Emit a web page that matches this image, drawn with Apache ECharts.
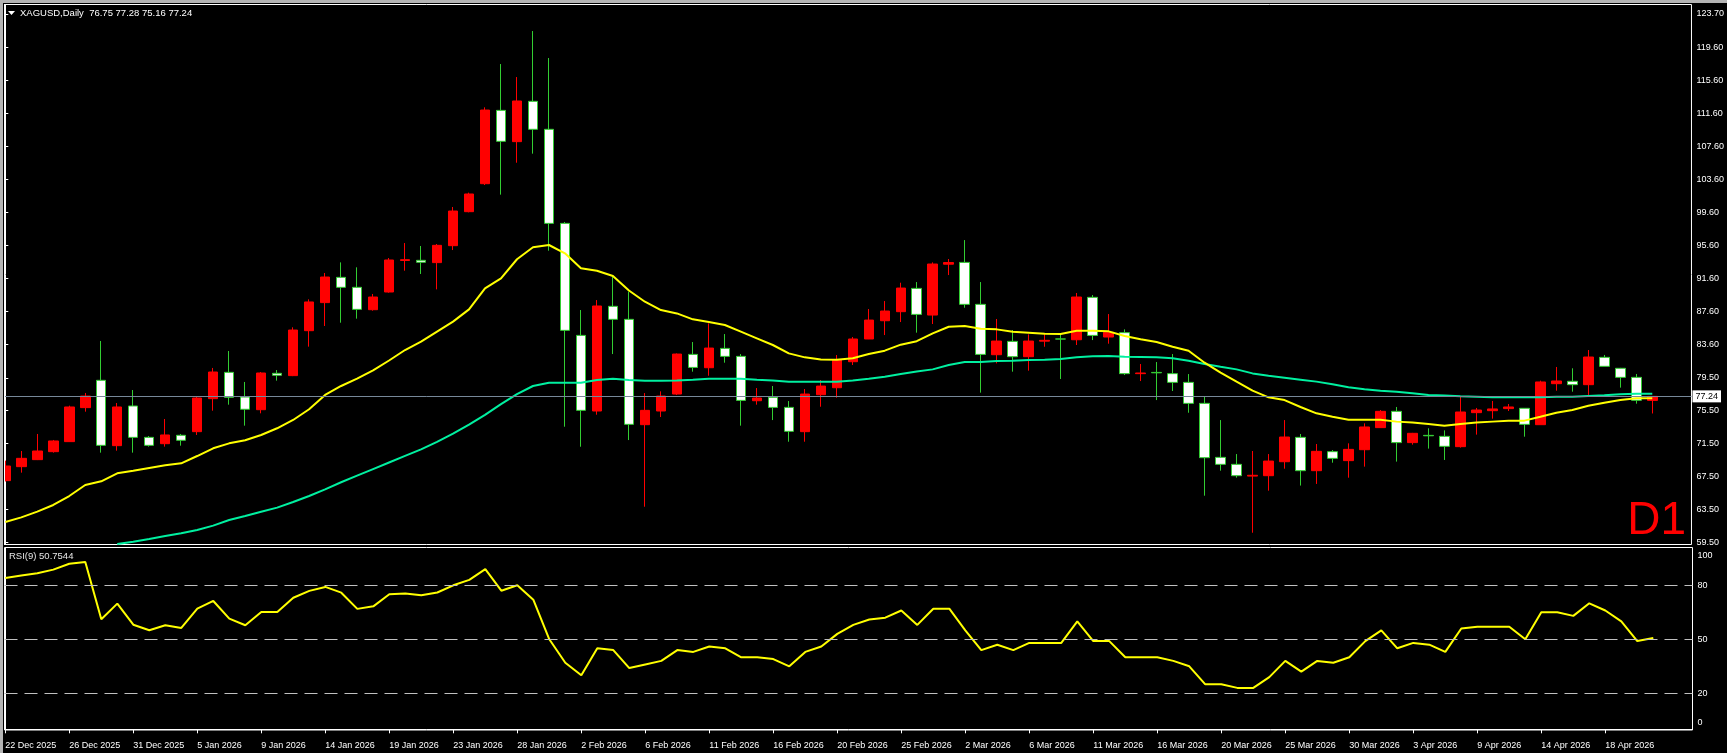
<!DOCTYPE html>
<html>
<head>
<meta charset="utf-8">
<script src="https://cdn.jsdelivr.net/npm/echarts@6/dist/echarts.min.js"></script>
<style>
html,body{margin:0;padding:0;background:#000;}
#chart{width:1727px;height:753px;}
</style>
</head>
<body>
<div id="chart"></div>
<script>
// ---- data ----
const categories = ['22 Dec 2025','23 Dec 2025','24 Dec 2025','25 Dec 2025','26 Dec 2025','28 Dec 2025','29 Dec 2025','30 Dec 2025','31 Dec 2025','1 Jan 2026','2 Jan 2026','4 Jan 2026','5 Jan 2026','6 Jan 2026','7 Jan 2026','8 Jan 2026','9 Jan 2026','11 Jan 2026','12 Jan 2026','13 Jan 2026','14 Jan 2026','15 Jan 2026','16 Jan 2026','18 Jan 2026','19 Jan 2026','20 Jan 2026','21 Jan 2026','22 Jan 2026','23 Jan 2026','25 Jan 2026','26 Jan 2026','27 Jan 2026','28 Jan 2026','29 Jan 2026','30 Jan 2026','1 Feb 2026','2 Feb 2026','3 Feb 2026','4 Feb 2026','5 Feb 2026','6 Feb 2026','8 Feb 2026','9 Feb 2026','10 Feb 2026','11 Feb 2026','12 Feb 2026','13 Feb 2026','15 Feb 2026','16 Feb 2026','17 Feb 2026','18 Feb 2026','19 Feb 2026','20 Feb 2026','22 Feb 2026','23 Feb 2026','24 Feb 2026','25 Feb 2026','26 Feb 2026','27 Feb 2026','1 Mar 2026','2 Mar 2026','3 Mar 2026','4 Mar 2026','5 Mar 2026','6 Mar 2026','8 Mar 2026','9 Mar 2026','10 Mar 2026','11 Mar 2026','12 Mar 2026','13 Mar 2026','15 Mar 2026','16 Mar 2026','17 Mar 2026','18 Mar 2026','19 Mar 2026','20 Mar 2026','22 Mar 2026','23 Mar 2026','24 Mar 2026','25 Mar 2026','26 Mar 2026','27 Mar 2026','29 Mar 2026','30 Mar 2026','31 Mar 2026','1 Apr 2026','2 Apr 2026','3 Apr 2026','6 Apr 2026','7 Apr 2026','8 Apr 2026','9 Apr 2026','10 Apr 2026','12 Apr 2026','13 Apr 2026','14 Apr 2026','15 Apr 2026','16 Apr 2026','17 Apr 2026','18 Apr 2026','19 Apr 2026','20 Apr 2026','21 Apr 2026'];

const open = [67.00,68.70,69.55,70.52,71.74,75.87,79.19,71.25,76.07,72.26,71.49,72.51,72.95,76.96,80.16,77.16,75.62,80.04,79.76,85.22,88.63,91.70,90.49,87.77,89.92,93.75,93.77,93.49,95.55,99.68,103.08,111.99,108.19,113.09,109.69,98.26,84.65,75.46,88.18,86.60,73.80,75.46,77.52,82.34,80.72,83.07,82.10,76.71,77.12,75.90,72.95,77.44,78.29,81.45,84.21,86.43,87.53,90.36,87.12,93.30,93.52,88.42,82.30,83.92,82.06,83.95,84.22,84.12,89.27,84.45,84.98,80.00,80.15,80.00,78.94,76.39,69.83,68.98,67.55,67.60,69.30,72.26,68.21,70.52,69.43,70.76,73.44,75.42,71.62,72.50,72.38,71.13,75.26,75.50,75.75,75.79,73.80,78.78,79.07,78.66,81.98,80.65,79.55,76.75];
const high = [69.43,70.60,72.67,71.94,76.11,77.65,83.97,76.43,78.01,72.42,74.49,72.67,77.20,80.69,82.75,78.99,80.20,80.44,85.63,89.03,92.23,93.52,92.92,89.68,94.05,95.87,95.51,95.75,100.25,101.99,112.36,117.62,116.04,121.63,118.35,98.43,87.73,88.94,91.78,89.96,77.64,77.85,82.45,83.84,86.11,84.81,82.38,78.25,78.50,76.67,78.13,79.22,82.26,84.45,87.85,88.82,91.05,91.13,93.52,93.93,96.23,91.13,86.64,85.30,84.77,84.81,84.77,89.80,89.55,87.24,85.38,81.17,81.41,82.38,79.95,77.20,74.36,70.23,70.60,70.23,74.36,72.67,71.45,70.72,71.53,73.96,75.58,75.95,72.80,73.36,73.11,77.20,75.83,76.68,76.31,75.80,79.15,80.81,80.65,82.87,82.27,80.70,79.96,77.28];
const low = [66.90,67.97,69.50,70.40,71.70,75.38,70.40,70.64,70.40,71.13,71.13,71.25,72.55,75.50,76.23,73.68,75.18,79.15,79.70,83.28,85.79,86.19,86.68,87.65,89.84,92.51,92.11,90.24,95.02,99.60,102.92,101.75,105.63,106.73,94.94,73.55,71.12,75.01,82.38,71.93,63.83,74.73,77.40,80.24,79.75,81.33,73.68,76.23,74.36,71.73,71.73,75.98,77.08,81.05,84.20,84.69,86.27,84.98,86.03,91.98,88.01,77.69,81.25,80.24,80.36,83.27,79.35,83.48,84.08,83.64,79.83,79.10,76.79,77.89,75.25,65.17,68.21,67.36,60.67,65.78,68.45,66.40,66.60,69.18,67.36,68.70,73.40,69.31,71.37,70.89,69.51,71.01,72.59,74.53,75.46,72.34,73.80,77.93,77.81,77.41,80.89,78.30,76.35,75.16];
const close = [68.78,69.71,70.60,71.82,75.95,77.28,71.29,75.95,72.26,71.29,72.55,71.90,77.04,80.20,77.12,75.67,80.08,79.80,85.30,88.71,91.74,90.49,87.81,89.31,93.81,93.85,93.53,95.59,99.76,101.83,112.03,108.23,113.13,109.69,98.26,85.26,75.54,88.22,86.60,73.84,75.54,77.28,82.38,80.76,83.11,82.10,76.75,77.04,75.90,72.99,77.52,78.49,81.65,84.21,86.51,87.61,90.40,87.20,93.32,93.50,88.42,82.34,83.96,82.06,83.96,84.05,84.20,89.31,84.65,85.02,80.00,80.08,80.10,78.94,76.39,69.79,68.98,67.60,67.65,69.38,72.30,68.21,70.56,69.71,70.80,73.52,75.42,71.62,72.75,72.45,71.17,75.34,75.58,75.71,75.95,73.84,78.99,79.11,78.66,82.02,80.89,79.55,76.76,77.24];

const maFast = [61.97,62.54,63.23,64.04,65.13,66.47,66.92,67.89,68.21,68.54,68.86,69.10,69.99,70.93,71.53,71.90,72.55,73.36,74.37,75.67,77.41,78.50,79.40,80.40,81.60,82.87,83.88,85.10,86.32,87.81,90.37,91.58,93.90,95.35,95.63,94.62,92.80,92.51,91.86,90.10,88.74,87.73,87.32,86.60,86.27,85.91,85.10,84.29,83.48,82.46,81.98,81.73,81.69,81.86,82.38,82.79,83.52,83.94,84.89,85.70,85.79,85.46,85.38,85.10,84.98,84.85,84.81,85.22,85.22,85.14,84.57,84.17,83.84,83.27,82.79,81.33,80.12,79.02,77.93,77.12,76.79,75.95,75.18,74.77,74.41,74.41,74.41,74.17,74.05,73.88,73.68,73.88,74.05,74.17,74.29,74.29,74.77,75.26,75.58,76.11,76.47,76.80,77.00,77.00];
const maSlow = [null,null,null,null,null,null,null,59.30,59.58,59.91,60.27,60.60,61.00,61.53,62.22,62.71,63.23,63.72,64.41,65.13,65.94,66.80,67.60,68.40,69.20,70.00,70.80,71.70,72.70,73.80,75.00,76.30,77.50,78.50,78.90,78.90,78.90,79.22,79.39,79.22,79.14,79.14,79.18,79.26,79.39,79.39,79.39,79.26,79.18,79.02,79.02,79.02,79.02,79.18,79.39,79.63,79.95,80.26,80.52,81.05,81.41,81.41,81.53,81.57,81.65,81.69,81.78,81.98,82.10,82.14,82.06,82.02,81.98,81.86,81.57,81.17,80.84,80.52,80.03,79.75,79.51,79.27,79.03,78.70,78.34,78.10,77.93,77.81,77.61,77.41,77.33,77.25,77.20,77.12,77.12,77.12,77.12,77.20,77.20,77.29,77.37,77.49,77.57,77.57];
const rsi = [84.1,85.4,86.7,88.7,92.0,93.0,61.1,69.8,58.1,55.0,57.8,56.3,67.0,71.3,61.5,57.8,65.2,65.2,73.1,76.9,79.1,75.9,66.9,68.3,75.0,75.4,74.5,76.0,80.0,83.0,89.0,77.0,80.0,72.0,50.0,37.0,30.0,45.0,44.0,34.0,36.0,38.0,44.0,43.0,46.0,45.0,40.0,40.0,39.0,35.0,43.0,46.0,53.0,58.0,61.0,62.0,66.0,58.0,67.0,67.0,55.0,44.0,47.0,44.0,48.0,48.0,48.0,60.0,49.0,49.0,40.0,40.0,40.0,38.0,35.0,25.0,25.0,23.0,23.0,29.0,38.0,32.0,38.0,37.0,40.0,49.0,55.0,45.0,48.0,47.0,43.0,56.0,57.0,57.0,57.0,50.0,65.0,65.0,63.0,70.0,66.0,60.0,49.0,50.7544];

const priceTicks = [123.70,119.60,115.60,111.60,107.60,103.60,99.60,95.60,91.60,87.60,83.60,79.50,75.50,71.50,67.50,63.50,59.50];
const rsiLevels = [80,50,20];
const rsiLabelSpots = [96.6,80,50,20,3.9];
const rsiLabelText = ['100','80','50','20','0'];
const dateTickIdx = [0,4,8,12,16,20,24,28,32,36,40,44,48,52,56,60,64,68,72,76,80,84,88,92,96,100];
const title = 'XAGUSD,Daily  76.75 77.28 75.16 77.24';
const rsiTitle = 'RSI(9) 50.7544';

// ---- layout ----
const FONT = 'Liberation Sans';
const gridL = 4.5, gridW = 1688;
const barPx = 16;
const xMin = -(5.3 - gridL) / barPx;
const xMax = xMin + gridW / barPx;

const candleData = open.map((o, i) => [i, o, close[i], low[i], high[i]]);
const fastData = maFast.map((v, i) => [i, v]);
const slowData = maSlow.map((v, i) => [i, v]);
const rsiData = rsi.map((v, i) => [i, v]);
const lastClose = close[close.length - 1];

const chart = echarts.init(document.getElementById('chart'), null, {renderer: 'canvas'});
chart.setOption({
  animation: false,
  backgroundColor: '#000',
  grid: [
    {left: gridL, top: 4.5, width: gridW, height: 540, show: true, borderColor: '#fff', borderWidth: 1, backgroundColor: 'transparent', containLabel: false},
    {left: gridL, top: 547.5, width: gridW, height: 182.5, show: true, borderColor: '#fff', borderWidth: 1, backgroundColor: 'transparent', containLabel: false}
  ],
  xAxis: [
    {type: 'value', gridIndex: 0, min: xMin, max: xMax, axisLine: {show: false}, axisTick: {show: false}, axisLabel: {show: false}, splitLine: {show: false}},
    {type: 'value', gridIndex: 1, min: xMin, max: xMax,
     axisLine: {show: true, lineStyle: {color: '#fff', width: 1}},
     axisTick: {show: true, customValues: dateTickIdx, length: 4, lineStyle: {color: '#fff'}},
     axisLabel: {show: true, customValues: dateTickIdx, formatter: v => categories[Math.round(v)], align: 'left', color: '#fff', fontFamily: FONT, fontSize: 9, margin: 11, padding: [0, 0, 0, 0]},
     splitLine: {show: false}}
  ],
  yAxis: [
    {type: 'value', gridIndex: 0, position: 'right', min: 59.24, max: 124.854, scale: true,
     axisLine: {show: true, lineStyle: {color: '#fff'}},
     axisTick: {show: true, customValues: priceTicks, length: 3, lineStyle: {color: '#fff'}},
     axisLabel: {show: true, customValues: priceTicks, formatter: v => v.toFixed(2), color: '#fff', fontFamily: FONT, fontSize: 9, margin: 5},
     splitLine: {show: false}},
    {type: 'value', gridIndex: 1, position: 'right', min: -0.39, max: 101.0,
     axisLine: {show: true, lineStyle: {color: '#fff'}},
     axisTick: {show: true, customValues: rsiLevels, length: 3, lineStyle: {color: '#fff'}},
     axisLabel: {show: true, customValues: rsiLabelSpots, formatter: v => rsiLabelText[rsiLabelSpots.indexOf(v)], color: '#fff', fontFamily: FONT, fontSize: 9, margin: 5},
     splitLine: {show: false}}
  ],
  series: [
    {type: 'candlestick', xAxisIndex: 0, yAxisIndex: 0, data: candleData, encode: {x: 0, y: [1, 2, 3, 4]},
     barWidth: 10, clip: true, z: 2,
     itemStyle: {color: '#ff0000', borderColor: '#ff0000', color0: '#ffffff', borderColor0: '#32cd32', borderWidth: 1},
     markLine: {silent: true, symbol: ['none', 'none'], animation: false,
       lineStyle: {color: '#778899', width: 1, type: 'solid'},
       label: {show: true, position: 'end', formatter: lastClose.toFixed(2), color: '#000', backgroundColor: '#fff', fontFamily: FONT, fontSize: 9, padding: [2, 3, 1, 3], distance: 1},
       data: [{yAxis: lastClose}]}},
    {type: 'line', xAxisIndex: 0, yAxisIndex: 0, data: slowData, showSymbol: false, clip: true, z: 3,
     lineStyle: {color: '#00f0a0', width: 2}},
    {type: 'line', xAxisIndex: 0, yAxisIndex: 0, data: fastData, showSymbol: false, clip: true, z: 4,
     lineStyle: {color: '#ffff00', width: 2}},
    {type: 'line', xAxisIndex: 1, yAxisIndex: 1, data: rsiData, showSymbol: false, clip: true, z: 4,
     lineStyle: {color: '#ffff00', width: 2},
     markLine: {silent: true, symbol: ['none', 'none'], animation: false,
       lineStyle: {color: '#c0c0c0', width: 1, type: [13, 7]},
       label: {show: false},
       data: rsiLevels.map(v => ({yAxis: v}))}}
  ],
  graphic: [
    {type: 'rect', z: 100, left: 0, top: 0, shape: {width: 1727, height: 3}, style: {fill: '#b4b4b4'}, silent: true},
    {type: 'rect', z: 100, left: 0, top: 0, shape: {width: 3, height: 753}, style: {fill: '#b4b4b4'}, silent: true},
    {type: 'rect', z: 100, left: 3, top: 3, shape: {width: 1, height: 750}, style: {fill: '#000'}, silent: true},
    {type: 'rect', z: 101, left: 4, top: 4, shape: {width: 1, height: 541}, style: {fill: '#fff'}, silent: true},
    {type: 'polygon', z: 100, shape: {points: [[8, 11], [15, 11], [11.5, 15]]}, style: {fill: '#fff'}, silent: true},
    {type: 'text', z: 100, x: 20, y: 13, style: {text: title, fill: '#fff', font: '9.5px ' + FONT, textVerticalAlign: 'middle'}, silent: true},
    {type: 'text', z: 100, x: 9, y: 556, style: {text: rsiTitle, fill: '#e6e6e6', font: '9.5px ' + FONT, textVerticalAlign: 'middle'}, silent: true},
    {type: 'text', z: 100, x: 1686, y: 521.5, style: {text: 'D1', fill: '#ff0000', font: '46px ' + FONT, textAlign: 'right', textVerticalAlign: 'middle'}, silent: true}
  ]
});
</script>
</body>
</html>
